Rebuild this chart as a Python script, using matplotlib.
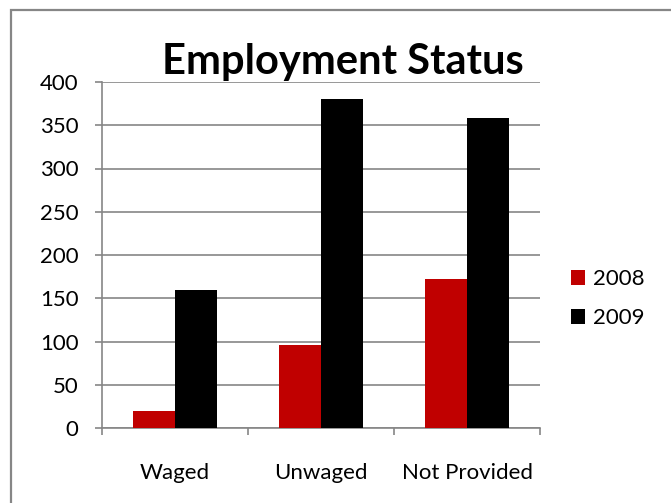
import matplotlib
matplotlib.use("Agg")
import matplotlib.pyplot as plt
from matplotlib.patches import Rectangle
import numpy as np

categories = ["Waged", "Unwaged", "Not Provided"]
years = ["2008", "2009"]
vals_2008 = [20, 96, 172]
vals_2009 = [160, 380, 358]
y_ticks = [0, 50, 100, 150, 200, 250, 300, 350, 400]

plt.rcParams['font.family'] = ['Lato', 'DejaVu Sans']

W, H = 671, 503
fig = plt.figure(figsize=(W / 100, H / 100), dpi=100)

# chart border (left and top visible, rest runs off the image)
fig.add_artist(Rectangle((11 / W, -0.1), 1.2, 1.1 - 10 / H, transform=fig.transFigure,
                         fill=False, edgecolor='#868686', linewidth=1.6))

ax = fig.add_axes([102 / W, 1 - 428 / H, 438 / W, 346 / H])

x = np.arange(len(categories))
w = 0.286
ax.bar(x - w / 2, vals_2008, w, color='#C00000', label=years[0], zorder=3)
ax.bar(x + w / 2, vals_2009, w, color='#000000', label=years[1], zorder=3)

ax.set_xlim(-0.5, 2.5)
ax.set_ylim(0, 400)
ax.set_yticks(y_ticks)
ax.yaxis.grid(True, color='#868686', linewidth=1.2, zorder=0)
ax.set_axisbelow(True)

ax.set_xticks(x)
ax.set_xticklabels(categories, fontsize=16)
ax.tick_params(axis='x', length=0, pad=25)
ax.set_xticks([-0.5, 0.5, 1.5, 2.5], minor=True)
ax.tick_params(axis='x', which='minor', length=5, width=1.2, color='#868686')
ax.tick_params(axis='y', labelsize=16, length=5, width=1.2, color='#868686', pad=12)

for s in ['top', 'right']:
    ax.spines[s].set_visible(False)
for s in ['left', 'bottom']:
    ax.spines[s].set_color('#868686')
    ax.spines[s].set_linewidth(1.2)

fig.text(343 / W, 1 - 74 / H, "Employment Status", fontsize=30,
         fontweight='bold', ha='center', va='baseline')

ax.legend(loc='center left', bbox_to_anchor=(1.07, 0.373), frameon=False,
          fontsize=16, handlelength=0.65, handleheight=0.65, handletextpad=0.35,
          labelspacing=0.85, borderpad=0, borderaxespad=0)

fig.savefig("out.png", dpi=100)
